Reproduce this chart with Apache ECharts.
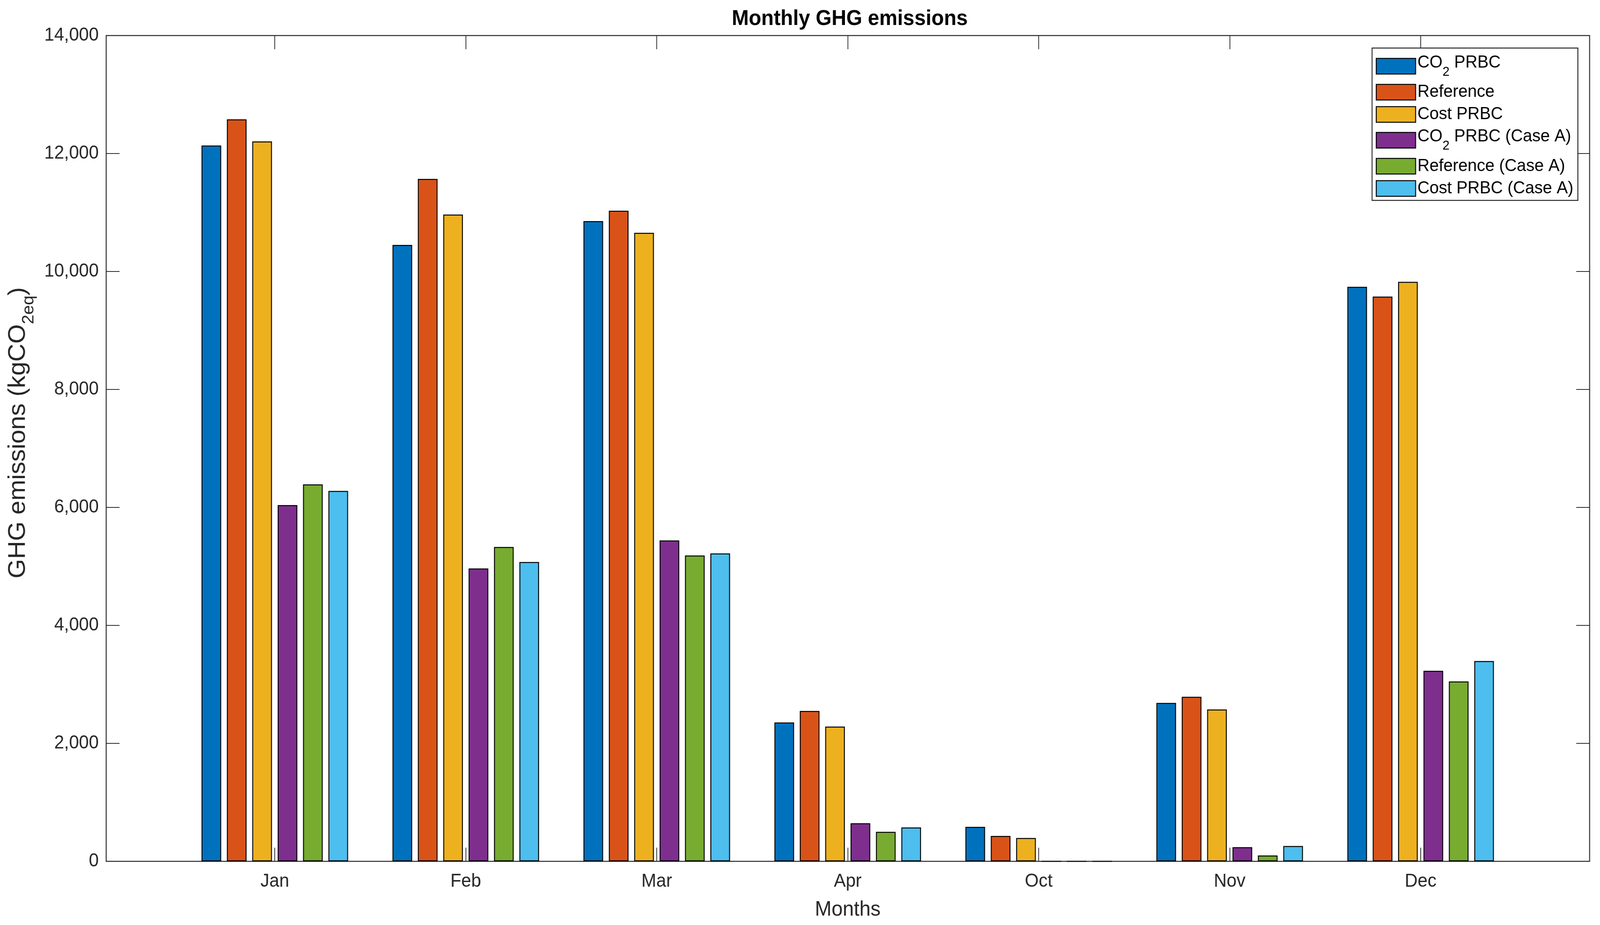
<!DOCTYPE html>
<html>
<head>
<meta charset="utf-8">
<script src="https://cdn.jsdelivr.net/npm/echarts@6/dist/echarts.min.js"></script>
<style>
html,body{margin:0;padding:0;background:#fff;overflow:hidden;width:100%;height:100%;}
#wrap{position:absolute;left:0;top:0;width:4310px;height:2368px;transform-origin:0 0;}
#chart{width:4310px;height:2368px;}
</style>
</head>
<body>
<div id="wrap"><div id="chart"></div></div>
<script>
// ---- data ----
const months = ['Jan', 'Feb', 'Mar', 'Apr', 'Oct', 'Nov', 'Dec'];
const co2PRBC        = [12135, 10450, 10855, 2355, 585, 2685, 9740];
const reference      = [12580, 11570, 11030, 2550, 430, 2790, 9575];
const costPRBC       = [12205, 10965, 10655, 2285, 395, 2575, 9825];
const co2PRBCCaseA   = [6040, 4965, 5440, 645, 0, 240, 3230];
const referenceCaseA = [6390, 5330, 5185, 500, 0, 100, 3050];
const costPRBCCaseA  = [6280, 5075, 5220, 575, 0, 260, 3395];
const seriesNames = ['CO2 PRBC', 'Reference', 'Cost PRBC', 'CO2 PRBC (Case A)', 'Reference (Case A)', 'Cost PRBC (Case A)'];
const seriesValues = [co2PRBC, reference, costPRBC, co2PRBCCaseA, referenceCaseA, costPRBCCaseA];
const colors = ['#0072BD', '#D95319', '#EDB120', '#7E2F8E', '#77AC30', '#4DBEEE'];
const yMin = 0, yMax = 14000, yStep = 2000;

const FONT = 'Liberation Sans';
const AX = '#262626';

// The drawing is laid out on a 4310 x 2368 canvas and squeezed to the window size.
const W = 4310, H = 2368;
const sx = Math.min(1, (window.innerWidth || W) / W);
const sy = Math.min(1, (window.innerHeight || H) / H);
document.getElementById('wrap').style.transform = 'scale(' + sx + ',' + sy + ')';

const chart = echarts.init(document.getElementById('chart'), null, { width: W, height: H });

const series = seriesNames.map((n, i) => ({
  name: n,
  type: 'bar',
  xAxisIndex: 1,
  yAxisIndex: 2,
  data: seriesValues[i],
  barWidth: 53,
  barGap: '29%',
  itemStyle: { color: colors[i], borderColor: '#000', borderWidth: 2.5 },
  emphasis: { disabled: true }
}));

const option = {
  animation: false,
  backgroundColor: '#fff',
  textStyle: { fontFamily: FONT },
  title: {
    text: 'Monthly GHG emissions',
    left: 2284,
    textAlign: 'center',
    top: 16,
    textStyle: { fontFamily: FONT, fontSize: 55, fontWeight: 'bold', color: '#000' }
  },
  legend: {
    orient: 'vertical',
    left: 3696,
    top: 123,
    padding: [15, 12, 8, 10],
    itemWidth: 106,
    itemHeight: 40,
    itemGap: 12,
    borderColor: AX,
    borderWidth: 2.5,
    backgroundColor: '#fff',
    icon: 'rect',
    itemStyle: { borderColor: '#000', borderWidth: 2.5 },
    selectedMode: false,
    data: seriesNames,
    formatter: function (name) {
      if (name.indexOf('CO2') === 0) {
        return '{t|CO}{s|2}{t|' + name.slice(3) + '}';
      }
      return '{n|' + name + '}';
    },
    textStyle: {
      fontFamily: FONT, fontSize: 45, color: '#000',
      rich: {
        n: { fontFamily: FONT, fontSize: 45, lineHeight: 42, color: '#000' },
        t: { fontFamily: FONT, fontSize: 45, height: 40, lineHeight: 58, verticalAlign: 'top', color: '#000' },
        s: { fontFamily: FONT, fontSize: 34, height: 28, lineHeight: 58, padding: [30, 0, 0, 0], color: '#000' }
      }
    }
  },
  grid: [
    { left: 286, right: 28, top: 91, bottom: 163, show: true, borderColor: AX, borderWidth: 2.5, backgroundColor: 'transparent' },
    { left: 483, right: 226, top: 91, bottom: 163 }
  ],
  xAxis: [
    { type: 'value', gridIndex: 0, min: 0, max: 1, show: false },
    {
      type: 'category', gridIndex: 1, position: 'bottom', data: months,
      axisLine: { show: false },
      axisTick: { show: true, inside: true, length: 35, alignWithLabel: true, lineStyle: { color: AX, width: 2 } },
      axisLabel: { fontFamily: FONT, fontSize: 48, color: AX, margin: 28 },
      name: 'Months', nameLocation: 'middle', nameGap: 97,
      nameTextStyle: { fontFamily: FONT, fontSize: 54, color: AX }
    },
    {
      type: 'category', gridIndex: 1, position: 'top', data: months,
      axisLine: { show: false },
      axisTick: { show: true, inside: true, length: 35, alignWithLabel: true, lineStyle: { color: AX, width: 2 } },
      axisLabel: { show: false }
    }
  ],
  yAxis: [
    {
      type: 'value', gridIndex: 0, position: 'left', min: yMin, max: yMax, interval: yStep,
      axisLine: { show: false },
      axisTick: { show: true, inside: true, length: 36, lineStyle: { color: AX, width: 2 } },
      splitLine: { show: false },
      axisLabel: {
        fontFamily: FONT, fontSize: 48, color: AX, margin: 20,
        formatter: v => v.toLocaleString('en-US')
      },
      name: '{m|GHG emissions (kgCO}{s|2eq}{m|)}',
      nameLocation: 'middle',
      nameGap: 189,
      nameTextStyle: {
        fontFamily: FONT, fontSize: 64, color: AX,
        padding: [0, 0, 0, 80],
        rich: {
          m: { fontFamily: FONT, fontSize: 64, height: 56, lineHeight: 76, verticalAlign: 'top', color: AX },
          s: { fontFamily: FONT, fontSize: 44, height: 38, lineHeight: 76, padding: [38, 0, 0, 0], color: AX }
        }
      }
    },
    {
      type: 'value', gridIndex: 0, position: 'right', min: yMin, max: yMax, interval: yStep,
      axisLine: { show: false },
      axisTick: { show: true, inside: true, length: 36, lineStyle: { color: AX, width: 2 } },
      splitLine: { show: false },
      axisLabel: { show: false }
    },
    {
      type: 'value', gridIndex: 1, min: yMin, max: yMax, interval: yStep, show: false,
      splitLine: { show: false }
    }
  ],
  series: series
};

chart.setOption(option);
</script>
</body>
</html>
